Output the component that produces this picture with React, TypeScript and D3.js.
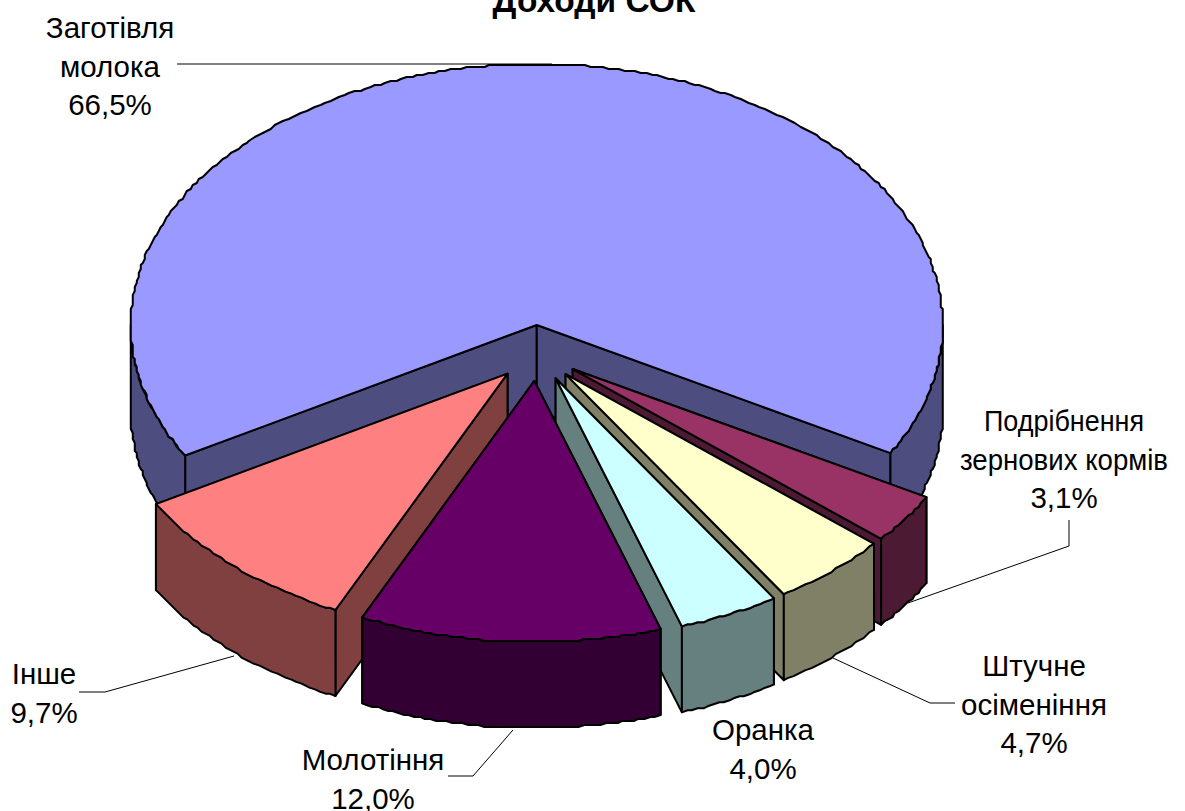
import * as d3 from 'd3';

const categories = ['Заготівля молока', 'Подрібнення зернових кормів', 'Штучне осіменіння', 'Оранка', 'Молотіння', 'Інше'];
const shares = [66.5, 3.1, 4.7, 4.0, 12.0, 9.7];
const topColors = ['#9999ff', '#993366', '#ffffcc', '#ccffff', '#660066', '#ff8080'];
const sideColors = ['#4d4d80', '#4d1a33', '#808066', '#668080', '#330033', '#804040'];

// label text broken the way it wraps in the picture
const labelLines = [
    ['Заготівля', 'молока', '66,5%'],
    ['Подрібнення', 'зернових кормів', '3,1%'],
    ['Штучне', 'осіменіння', '4,7%'],
    ['Оранка', '4,0%'],
    ['Молотіння', '12,0%'],
    ['Інше', '9,7%'],
];
// the second label is squeezed in the original
const squeezedLines: Record<string, number> = { 'Подрібнення': 160, 'зернових кормів': 208 };
const labelAnchors = [
    [110, 38],
    [1064, 431],
    [1034, 676],
    [763, 740],
    [373, 770],
    [44, 684],
];
const leaders = [
    [[177, 64], [552, 64]],
    [[1069, 520], [1069, 546], [908, 603]],
    [[955, 703], [930, 703], [833, 658]],
    [],
    [[448, 776], [473, 776], [513, 730]],
    [[79, 692], [105, 692], [234, 656]],
];

const width = 1185;
const height = 811;
const cx = 537;
const cy = 353;
const rx = 406;
const ry = 261;
const depth = 86;
const explode = 0.1073;
const lineHeight = 38.5;
const rad = Math.PI / 180;

const pie = d3.pie<number>().sort(null).startAngle(-120 * rad).endAngle(240 * rad);
const arcs = pie(shares);

const drawOrder = [0, 1, 2, 3, 5, 4];

// angle is measured clockwise from the top, like d3.arc
const project = (a: number, r = 1): [number, number] => [rx * r * Math.sin(a), -ry * r * Math.cos(a)];
const rough = (v: number) => Math.round(v / 2) * 2;

function rim(a0: number, a1: number, dy = 0): [number, number][] {
    const n = Math.max(2, Math.ceil((a1 - a0) / (0.8 * rad)));
    return d3.range(n + 1).map(i => {
        const [x, y] = project(a0 + ((a1 - a0) * i) / n);
        return (i === 0 || i === n ? [x, y + dy] : [rough(x), rough(y) + dy]) as [number, number];
    });
}

const line = d3.line();

function Slice({ index }: { index: number }) {
    const { startAngle: a0, endAngle: a1 } = arcs[index];
    const mid = (a0 + a1) / 2;
    const [ox, oy] = project(mid, explode);
    const p0 = project(a0);
    const p1 = project(a1);
    // the face turned to the viewer has to go on top of the hidden one
    const faces = mid > Math.PI ? [p1, p0] : [p0, p1];

    // only the part of the rim facing the viewer gets a wall
    const walls: [number, number][] = [];
    for (const [lo, hi] of [[Math.PI / 2, 1.5 * Math.PI], [-1.5 * Math.PI, -Math.PI / 2]]) {
        const s = Math.max(a0, lo);
        const e = Math.min(a1, hi);
        if (s < e) walls.push([s, e]);
    }

    return (
        <g transform={`translate(${cx + ox},${cy + oy})`} stroke="#000" strokeWidth={2} strokeLinejoin="round">
            {faces.map((p, i) => (
                <path
                    key={i}
                    fill={sideColors[index]}
                    d={line([[0, 0], p, [p[0], p[1] + depth], [0, depth]])! + 'Z'}
                />
            ))}
            {walls.map(([s, e], i) => (
                <path
                    key={i}
                    fill={sideColors[index]}
                    d={line([...rim(s, e), ...rim(s, e, depth).reverse()])! + 'Z'}
                />
            ))}
            <path fill={topColors[index]} d={line([[0, 0], ...rim(a0, a1)])! + 'Z'} />
        </g>
    );
}

export default function App() {
    return (
        <svg
            width={width}
            height={height}
            style={{ position: 'absolute', left: 0, top: 0, display: 'block' }}
            fontFamily="'Liberation Sans', Arial, sans-serif"
        >
            <rect width={width} height={height} fill="#fff" />
            <text x={594} y={12} textAnchor="middle" fontSize={33.5} fontWeight="bold">
                Доходи СОК
            </text>
            {drawOrder.map(i => (
                <Slice key={categories[i]} index={i} />
            ))}
            {leaders.map((pts, i) =>
                pts.length ? (
                    <path key={i} d={line(pts as [number, number][])!} fill="none" stroke="#000" strokeWidth={1} />
                ) : null
            )}
            {labelLines.map((lines, i) =>
                lines.map((t, j) => (
                    <text
                        key={t}
                        x={labelAnchors[i][0]}
                        y={labelAnchors[i][1] + j * lineHeight}
                        textAnchor="middle"
                        fontSize={29.5}
                        fill="#000"
                        textLength={squeezedLines[t]}
                        lengthAdjust={squeezedLines[t] ? 'spacingAndGlyphs' : undefined}
                    >
                        {t}
                    </text>
                ))
            )}
        </svg>
    );
}
